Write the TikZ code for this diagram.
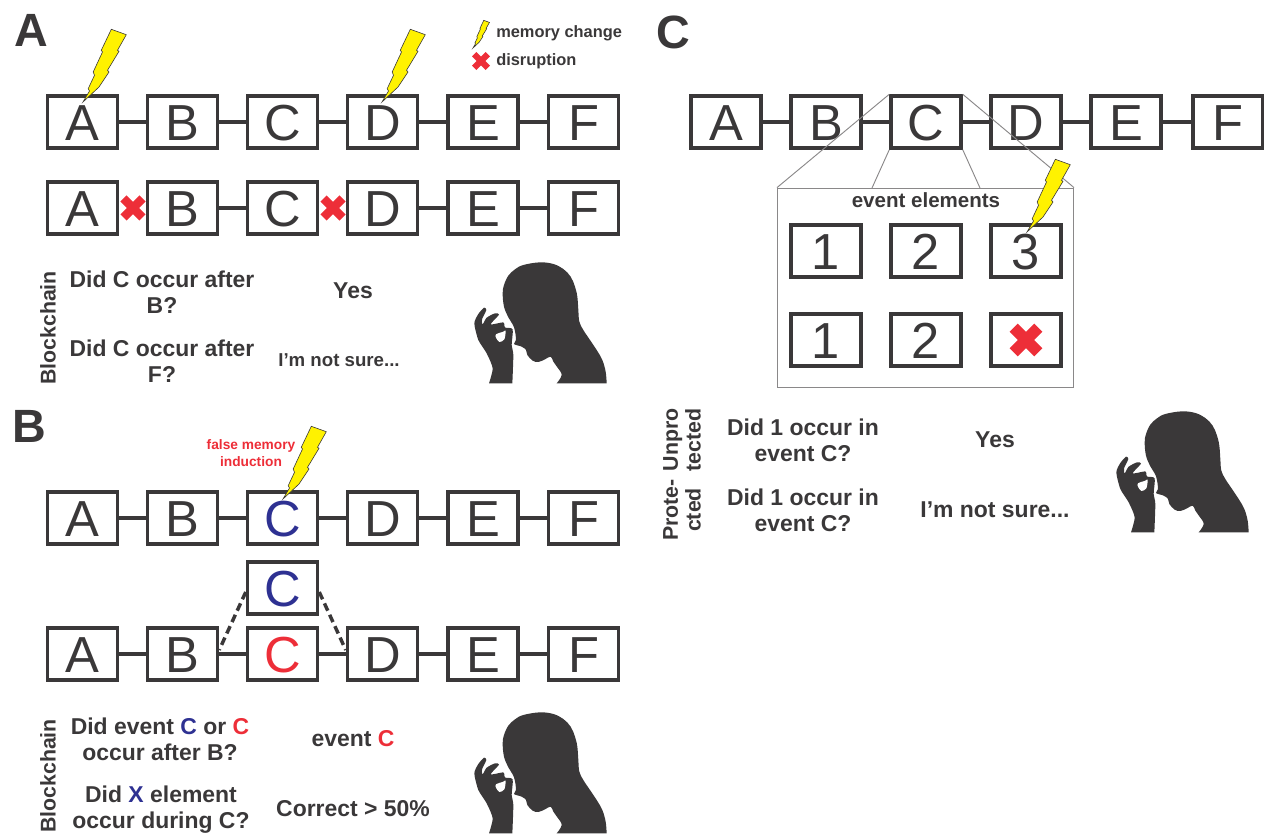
\documentclass[tikz,border=0pt]{standalone}
\usepackage{fontspec}
\setmainfont{Liberation Sans}
\definecolor{ink}{HTML}{3A3839}
\definecolor{evblue}{HTML}{2E3192}
\definecolor{evred}{HTML}{ED2E38}
\definecolor{bolty}{HTML}{FFF200}
\definecolor{guide}{HTML}{8A8889}
\newcommand{\evb}{\textcolor{evblue}{C}}
\newcommand{\evr}{\textcolor{evred}{C}}
\newcommand{\mybolt}[3]{\begin{scope}[shift={(#1,#2)},scale=#3]
\filldraw[fill=bolty,draw=ink,line width=0.45pt,line join=miter] (28.3,-72.7)--(43.3,-67.3)--(34.5,-51.7)--(36,-50.7)--(24.5,-31.7)--(26,-30)--(16,-15)--(0,0)--(6.5,-11)--(5.2,-13.3)--(11.5,-26.7)--(10.2,-30)--(19.5,-50)--(18.3,-51.7)--cycle;
\end{scope}}
\newcommand{\myx}[3]{\begin{scope}[shift={(#1,#2)},scale=#3]
\draw[evred,line width=#3*6.6pt] (-9.5,-9.5)--(9.5,9.5) (-9.5,9.5)--(9.5,-9.5);
\end{scope}}
\newcommand{\myhead}[2]{\begin{scope}[shift={(#1,#2)},scale=0.33333]
\fill[ink] plot[smooth,tension=0.6] coordinates {(350,430)(365,405)(352,382)(340,365)(332,350)(315,358)(295,366)(278,362)(262,345)(258,330)(245,320)(222,312)(228,300)(222,262)(205,232)(192,200)(188,160)(192,135)(205,107)(225,88)(250,75)(300,67)(340,72)(370,87)(392,110)(405,140)(412,170)(415,210)(418,245)(430,270)(450,300)(470,330)(487,360)(497,395)(500,430)} -- cycle;
\fill[ink] plot[smooth,tension=0.4] coordinates {(147,430)(158,385)(140,340)(115,300)(103,250)(115,222)(132,203)(139,210)(126,238)(128,253)(140,233)(165,220)(177,224)(152,253)(190,247)(193,258)(196,263)(218,268)(215,315)(220,345)(217,430)} -- cycle;
\fill[white] plot[smooth cycle,tension=0.5] coordinates {(168,283)(190,275)(197,272)(193,298)(178,306)(168,293)};
\end{scope}}
\tikzset{
  evbox/.style={draw=ink,line width=2.6pt,minimum width=52.5pt,minimum height=39pt,inner sep=0pt,text=ink,font=\fontsize{38}{38}\selectfont,text height=27.2pt,text depth=0pt,anchor=center},
  link/.style={draw=ink,line width=2.6pt},
  dashlink/.style={draw=ink,line width=2.6pt,dash pattern=on 6pt off 3.4pt},
  thinguide/.style={draw=guide,line width=0.7pt},
  qtext/.style={text=ink,font=\bfseries\fontsize{17.2}{19.5}\selectfont,align=center,inner sep=0pt},
  side/.style={text=ink,font=\bfseries\fontsize{16}{17}\selectfont,align=center,rotate=90,inner sep=0pt},
  panel/.style={text=ink,font=\bfseries\fontsize{35}{35}\selectfont,inner sep=0pt},
  legendtxt/.style={text=ink,font=\bfseries\fontsize{12.3}{14}\selectfont,anchor=west,inner sep=0pt},
}
\begin{document}
\begin{tikzpicture}[x=0.75pt,y=-0.75pt]
\useasboundingbox (0,0) rectangle (1264,834);
\foreach \r/\yy in {p/122,q/208,s/518,t/654}{
  \foreach \n/\l/\xx in {1/A/82.5,2/B/182.5,4/D/382.5,5/E/483,6/F/583.5}{
    \node[evbox] (\r\n) at (\xx,\yy) {\l};
  }
}
\node[evbox] (p3) at (282.5,122) {C};
\node[evbox] (q3) at (282.5,208) {C};
\node[evbox,text=evblue] (s3) at (282.5,518) {C};
\node[evbox,text=evred] (t3) at (282.5,654) {C};
\foreach \r in {p,s,t}{
  \draw[link] (\r1)--(\r2); \draw[link] (\r2)--(\r3); \draw[link] (\r3)--(\r4); \draw[link] (\r4)--(\r5); \draw[link] (\r5)--(\r6);
}
\draw[link] (q2)--(q3); \draw[link] (q4)--(q5); \draw[link] (q5)--(q6);
\node[evbox,text=evblue] (s0) at (282.5,588) {C};
\draw[dashlink] ([yshift=-3pt]s0.west)--([yshift=3pt]t2.east);
\draw[dashlink] ([yshift=-3pt]s0.east)--([yshift=3pt]t4.west);
% panel C
\foreach \n/\l/\xx in {1/A/726,2/B/826,3/C/926,4/D/1026,5/E/1126,6/F/1228}{
  \node[evbox] (u\n) at (\xx,122) {\l};
}
\draw[link] (u1)--(u2); \draw[link] (u2)--(u3); \draw[link] (u3)--(u4); \draw[link] (u4)--(u5); \draw[link] (u5)--(u6);
\node[draw=guide,line width=0.7pt,minimum width=222pt,minimum height=149.5pt,inner sep=0pt] (zoombox) at (925.5,287.7) {};
\draw[thinguide] (zoombox.north west)--(u3.north west);
\draw[thinguide] (zoombox.north east)--(u3.north east);
\coordinate (zl) at (872,188); \coordinate (zr) at (980,188);
\draw[thinguide] (zl)--(u3.south west);
\draw[thinguide] (zr)--(u3.south east);
\node[evbox] (v1) at (826,251) {1};
\node[evbox] (v2) at (926,251) {2};
\node[evbox] (v3) at (1026,251) {3};
\node[evbox] (w1) at (826,340) {1};
\node[evbox] (w2) at (926,340) {2};
\node[evbox] (w3) at (1026,340) {};
\myx{1026}{340}{1.3}
% bolts
\mybolt{83}{102}{1}
\mybolt{382}{102}{1}
\mybolt{283}{499}{1}
\mybolt{1027}{232}{1}
\mybolt{473}{48}{0.38}
% red crosses
\myx{133}{208}{1}
\myx{333}{208}{1}
\myx{481}{61}{0.72}
% panel letters
\node[panel] (la) at (31,30) {A};
\node[panel] (lb) at (29,426) {B};
\node[panel] (lc) at (673,32) {C};
% legend
\node[legendtxt] (lg1) at (496,33) {memory change};
\node[legendtxt] (lg2) at (496,61) {disruption};
\node[text=evred,font=\bfseries\fontsize{10.3}{12.2}\selectfont,align=center,inner sep=0pt] (fm) at (251,453) {false memory\\induction};
\node[text=ink,font=\bfseries\fontsize{15.4}{17}\selectfont,inner sep=0pt] (ee) at (926,200.5) {event elements};
% A questions
\node[side] (sa) at (48,328) {Blockchain};
\node[qtext] (qa1) at (162,292) {Did C occur after\\B?};
\node[qtext] (qa2) at (162,361) {Did C occur after\\F?};
\node[qtext] (aa1) at (353,291) {Yes};
\node[qtext,font=\bfseries\fontsize{14}{17}\selectfont] (aa2) at (339,360) {I’m not sure...};
% B questions
\node[side] (sb) at (48,776) {Blockchain};
\node[qtext] (qb1) at (160,739) {Did event \evb{} or \evr{}\\occur after B?};
\node[qtext] (qb2) at (161,809.5) {Did \textcolor{evblue}{X} element\\occur during C?};
\node[qtext] (ab1) at (353,739) {event \evr{}};
\node[qtext] (ab2) at (353,809) {Correct > 50\%};
% C questions
\node[side] (sc1) at (682,440) {Unpro\\tected};
\node[side] (sc2) at (682,510) {Prote-\\cted};
\node[qtext] (qc1) at (803,440) {Did 1 occur in\\event C?};
\node[qtext] (qc2) at (803,510) {Did 1 occur in\\event C?};
\node[qtext] (ac1) at (995,440) {Yes};
\node[qtext] (ac2) at (995,510) {I’m not sure...};
% heads
\myhead{440}{240}
\myhead{440}{690}
\myhead{1082}{389}
\end{tikzpicture}
\end{document}
